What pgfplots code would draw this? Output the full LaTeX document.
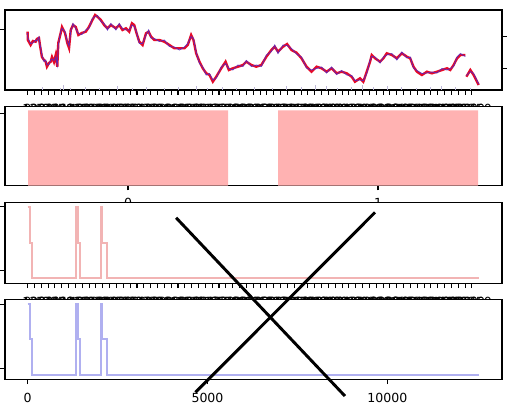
\documentclass[border=0pt]{standalone}
\usepackage{pgfplots}
\pgfplotsset{compat=1.18}
\usepackage{pgfplotstable}
\usepackage{fontspec}
\setmainfont{DejaVu Sans}
\definecolor{barpink}{RGB}{255,178,178}
\definecolor{steppink}{RGB}{242,180,180}
\definecolor{stepblue}{RGB}{176,176,240}
\definecolor{pricered}{RGB}{230,10,40}
\definecolor{priceblue}{RGB}{80,40,200}
\definecolor{volgray}{RGB}{190,185,215}
\pgfplotsset{
 panel/.style={
  scale only axis, width=372.75pt, anchor=north west,
  axis line style={line width=0.8pt},
  every tick/.style={line width=0.8pt, black},
  tick align=outside, major tick length=3.6pt,
  axis background/.style={fill=white},
  font=\fontsize{9.4}{11}\selectfont,
  /pgf/number format/assume math mode=true,
  scaled x ticks=false, scaled y ticks=false,
  xmin=-628, xmax=13185,
  ytick pos=left, xtick pos=bottom,
  yticklabels={},
 },
 manyticks/.style={
  xtick={0,190,...,12350},
  xticklabel={\pgfmathprintnumber[fixed,precision=0,set thousands separator={}]{\tick}},
  xticklabel style={yshift=-3.6pt},
 },
}
\pgfplotstableread{
x r b
0 58.3 57
8 50 52
84 45 46.5
148 49 47
223 48.3 50
259 51 49
315 52 53
343 45 46
399 33 35
455 30 28.5
502 28.3 30
538 23.3 25
594 27 25.5
641 28.3 30
678 33 31
733 28 29.5
781 35 33
825 23.3 25
853 47 45
920 57 58.5
956 63 61.5
1040 57 58.5
1104 47 48.5
1152 42 44
1199 60 58.5
1263 65 66.5
1339 63 61.5
1411 55 56.5
1506 57 55.5
1617 58.3 60
1709 63.3 62
1801 70 71.5
1877 75 73.5
1941 73.3 74.5
2036 70 68.5
2128 65 66.5
2220 61.7 60
2315 65 66.5
2454 61.7 60
2546 65 66.5
2638 60 61.5
2733 61.7 60
2825 58.3 60
2900 66.7 65
2964 65 63.5
3029 56.7 58
3104 48.3 46.5
3196 45 46.5
3291 56.7 55
3363 58.3 60
3430 53.3 52
3522 50 51.5
3662 50 48.5
3801 48.3 50
3940 45 43.5
4080 41.7 43
4219 41.7 40
4358 41.7 43
4451 45 46.5
4545 55 53.5
4610 50 51.5
4685 36.7 38
4777 28.3 26.5
4869 21.7 23
4964 16.7 15
5056 15 16.5
5148 8.3 10
5244 13.3 12
5382 21.7 23
5502 28.3 26.5
5594 20 21.5
5706 21.7 20
5845 23.3 25
5985 25 23.5
6079 28.3 29.5
6219 25 23.5
6358 23.3 25
6497 25 23.5
6637 33.3 35
6776 40 38.5
6868 43.3 45
6960 38.3 36.5
7100 43.3 45
7211 46 44.5
7334 40 41.5
7474 37.3 36
7613 31.7 33
7752 23.3 22
7892 18.3 20
8031 23.3 21.5
8170 21.7 23
8310 18.3 17
8449 21.7 23
8589 16.7 15.5
8728 18.3 19.5
8868 16.7 15
9007 13.3 14.5
9099 8.3 9.5
9239 11.7 10
9331 8.3 9.5
9426 18.3 16.5
9518 28.3 30
9565 35 33.5
9657 31.7 33
9796 28.3 27
9889 31.7 33
9983 36.7 35
10123 35 36.5
10262 31.7 30
10401 36.7 38
10541 33.3 32
10633 31.7 33
10725 23.3 22
10820 18.3 19.5
10959 15 16.5
11099 18.3 17
11238 16.7 18
11378 18.3 17
11517 20 21.5
11656 21.7 20
11748 20 21.5
11840 25 23.5
11935 31.7 33
12027 35 36.5
12166 35 33.5
12180 nan nan
12194 13.3 14.5
12305 20 18.5
12397 15 16.5
12537 5 6
}\price
\begin{document}
\begin{tikzpicture}
\useasboundingbox (0,0) rectangle (380.25pt,-307.5pt);
% Panel 1
\begin{axis}[panel, manyticks, at={(3.75pt,-7.5pt)}, height=60pt,
  ymin=0, ymax=80, ytick={60.7}, unbounded coords=jump]
\addplot[ycomb, volgray, line width=0.5pt, mark=none] coordinates {
 (400,3)(900,2)(1000,5)(1200,2)(1600,3)(2000,2)(2500,4)(2900,2)(3300,3)(3800,2)
 (4200,3)(4700,4)(5000,2)(5400,3)(5800,2)(6300,3)(6800,2)(7200,4)(7600,3)(8000,5)
 (8300,4)(8600,2)(9000,3)(9300,5)(9600,3)(10000,4)(10400,3)(10800,2)(11200,3)(11500,4)(11900,3)(12300,2)};
\addplot[pricered, line width=1.8pt, mark=none] table[x=x,y=r]{\price};
\addplot[priceblue, line width=0.6pt, opacity=0.85, mark=none] table[x=x,y=b]{\price};
\end{axis}
\begin{axis}[panel, at={(3.75pt,-7.5pt)}, height=60pt,
  ymin=0, ymax=80, axis x line=none, axis y line*=right, ytick pos=right,
  ytick={53.3,21.7}, axis background/.style={}]
\addplot[draw=none] coordinates {(0,0)};
\end{axis}
% Panel 2
\begin{axis}[panel, at={(3.75pt,-79.9pt)}, height=59.25pt,
  xmin=-0.492, xmax=1.496, ymin=0, ymax=1.05, ytick={0.96}, xtick={0,1},
  xticklabel style={yshift=-2.4pt}]
\addplot[ybar, fill=barpink, draw=none, bar width=0.8, bar shift=0pt] coordinates {(0,1) (1,1)};
\end{axis}
% Panel 3
\begin{axis}[panel, manyticks, at={(3.75pt,-151.7pt)}, height=60.75pt,
  ymin=-5, ymax=76, ytick={71.6,7.3}]
\addplot[const plot, steppink, line width=1.5pt, mark=none] coordinates {
 (0,71.6)(56,35.6)(128,0)(1347,71.6)(1394,35.6)(1450,0)(2036,71.6)(2080,35.6)(2220,0)(12557,0)};
\end{axis}
% Panel 4
\begin{axis}[panel, at={(3.75pt,-224.5pt)}, height=60pt,
  ymin=-4.3, ymax=75.7, ytick={71,7}, xtick={0,5000,10000},
  xticklabels={0,5000,10000}, clip=false, xticklabel style={yshift=-3.3pt}]
\addplot[const plot, stepblue, line width=1.5pt, mark=none] coordinates {
 (0,71)(56,36)(128,0)(1347,71)(1394,36)(1450,0)(2036,71)(2080,36)(2220,0)(12557,0)};
\addplot[black, line width=2.2pt, mark=none] coordinates {(4127,157.3)(8820,-21)};
\addplot[black, line width=2.2pt, mark=none] coordinates {(9657,162.7)(4666,-17.3)};
\end{axis}
\end{tikzpicture}
\end{document}
